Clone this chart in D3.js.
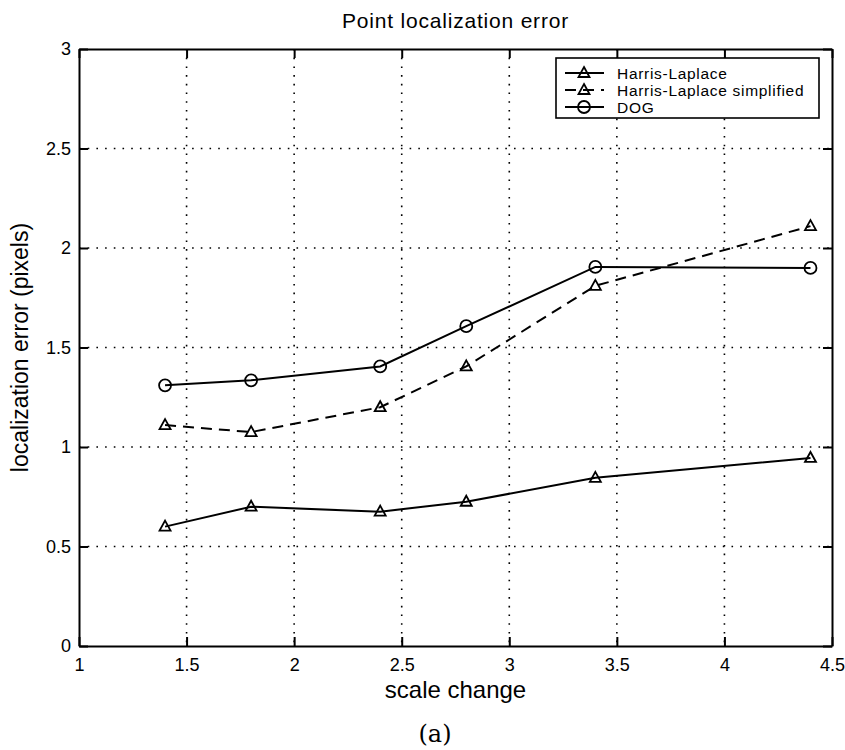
<!DOCTYPE html>
<html>
<head>
<meta charset="utf-8">
<script src="https://cdn.jsdelivr.net/npm/d3@7"></script>
<style>
  body { margin: 0; background: #fff; }
  text { font-family: "Liberation Sans", Arial, sans-serif; fill: #000; }
</style>
</head>
<body>
<div id="chart"></div>
<script>
const scaleChange = [1.4, 1.8, 2.4, 2.8, 3.4, 4.4];
const harrisLaplace = [0.60, 0.70, 0.675, 0.725, 0.845, 0.945];
const harrisSimplified = [1.11, 1.075, 1.20, 1.405, 1.81, 2.11];
const dog = [1.31, 1.335, 1.405, 1.607, 1.905, 1.90];
const xTicks = [1, 1.5, 2, 2.5, 3, 3.5, 4, 4.5];
const yTicks = [0, 0.5, 1, 1.5, 2, 2.5, 3];
const seriesNames = ["Harris-Laplace", "Harris-Laplace simplified", "DOG"];

const W = 845, H = 750;
const margin = {top: 49, right: 13, bottom: 104, left: 79};
const width = W - margin.left - margin.right;
const height = H - margin.top - margin.bottom;

const svg = d3.select("#chart").append("svg")
    .attr("width", W)
    .attr("height", H);

const g = svg.append("g")
    .attr("transform", `translate(${margin.left},${margin.top})`);

const x = d3.scaleLinear().domain([1, 4.5]).range([0, width]);
const y = d3.scaleLinear().domain([0, 3]).range([height, 0]);

// dotted grid
g.selectAll(".vgrid").data(xTicks.slice(1, -1)).enter().append("line")
    .attr("x1", d => x(d)).attr("x2", d => x(d))
    .attr("y1", 0).attr("y2", height)
    .attr("stroke", "#000").attr("stroke-width", 1.6)
    .attr("stroke-dasharray", "1.6,7.1");
g.selectAll(".hgrid").data(yTicks.slice(1, -1)).enter().append("line")
    .attr("y1", d => y(d)).attr("y2", d => y(d))
    .attr("x1", 0).attr("x2", width)
    .attr("stroke", "#000").attr("stroke-width", 1.6)
    .attr("stroke-dasharray", "1.6,7.1");

// axes with inward ticks
const fmt = d => d3.format("")(d);
g.append("g").attr("transform", `translate(0,${height})`)
    .call(d3.axisBottom(x).tickValues(xTicks).tickFormat(fmt).tickSizeInner(-9).tickSizeOuter(0).tickPadding(12));
g.append("g")
    .call(d3.axisTop(x).tickValues(xTicks).tickFormat("").tickSizeInner(-9).tickSizeOuter(0));
g.append("g")
    .call(d3.axisLeft(y).tickValues(yTicks).tickFormat(fmt).tickSizeInner(-9).tickSizeOuter(0).tickPadding(8));
g.append("g").attr("transform", `translate(${width},0)`)
    .call(d3.axisRight(y).tickValues(yTicks).tickFormat("").tickSizeInner(-9).tickSizeOuter(0));
g.selectAll(".domain").attr("stroke", "#000").attr("stroke-width", 2);
g.selectAll(".tick line").attr("stroke", "#000").attr("stroke-width", 2);
g.selectAll(".tick text").attr("font-size", 18).attr("font-family", "Liberation Sans, Arial, sans-serif");

// series
const line = d3.line().x(d => x(d[0])).y(d => y(d[1]));
const series = [
  {name: seriesNames[0], values: harrisLaplace, dash: null, marker: "tri"},
  {name: seriesNames[1], values: harrisSimplified, dash: "11,7", marker: "tri"},
  {name: seriesNames[2], values: dog, dash: null, marker: "circ"}
];

const triPath = "M0,-6L5.5,4L-5.5,4Z";

function drawMarker(sel, kind) {
  if (kind === "tri") {
    sel.append("path").attr("d", triPath)
      .attr("fill", "none").attr("stroke", "#000").attr("stroke-width", 1.8);
  } else {
    sel.append("circle").attr("r", 6)
      .attr("fill", "none").attr("stroke", "#000").attr("stroke-width", 1.8);
  }
}

series.forEach(s => {
  const pts = scaleChange.map((v, i) => [v, s.values[i]]);
  g.append("path").datum(pts)
    .attr("d", line)
    .attr("fill", "none").attr("stroke", "#000").attr("stroke-width", 2)
    .attr("stroke-dasharray", s.dash);
  pts.forEach(p => {
    const m = g.append("g").attr("transform", `translate(${x(p[0])},${y(p[1])})`);
    drawMarker(m, s.marker);
  });
});

// legend
const lg = svg.append("g").attr("transform", "translate(556,58)");
lg.append("rect").attr("width", 263).attr("height", 60)
    .attr("fill", "#fff").attr("stroke", "#000").attr("stroke-width", 1.6);
series.forEach((s, i) => {
  const row = lg.append("g").attr("transform", `translate(0,${15 + i * 17})`);
  row.append("line").attr("x1", 9).attr("x2", 48)
    .attr("stroke", "#000").attr("stroke-width", 1.8)
    .attr("stroke-dasharray", s.dash);
  drawMarker(row.append("g").attr("transform", "translate(28,0)"), s.marker);
  row.append("text").attr("x", 61).attr("y", 5.5)
    .attr("font-size", 15.5).attr("letter-spacing", 0.7).text(s.name);
});

// titles
svg.append("text").attr("x", margin.left + width / 2).attr("y", 28)
    .attr("text-anchor", "middle").attr("font-size", 21).attr("letter-spacing", 0.8)
    .text("Point localization error");
svg.append("text").attr("x", margin.left + width / 2).attr("y", 698)
    .attr("text-anchor", "middle").attr("font-size", 24)
    .text("scale change");
svg.append("text")
    .attr("transform", `translate(28,${margin.top + height / 2}) rotate(-90)`)
    .attr("text-anchor", "middle").attr("font-size", 23)
    .text("localization error (pixels)");
svg.append("text").attr("x", 435).attr("y", 742)
    .attr("text-anchor", "middle").attr("font-size", 24)
    .style("font-family", "DejaVu Serif, Liberation Serif, serif")
    .text("(a)");
</script>
</body>
</html>
